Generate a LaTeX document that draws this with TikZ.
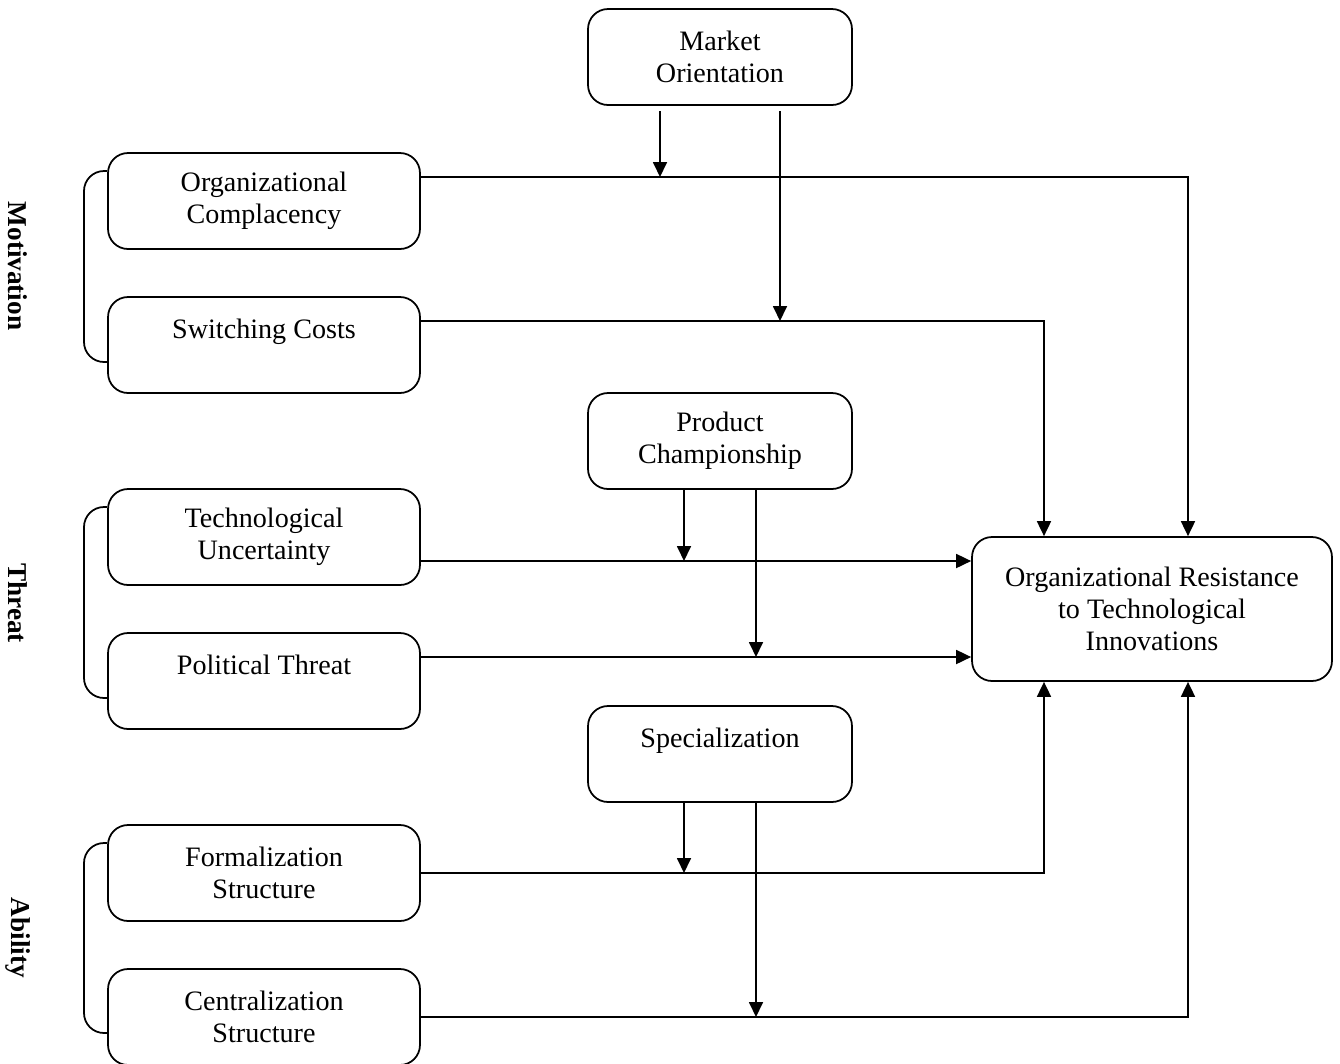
\documentclass[tikz,border=0pt]{standalone}
\usepackage{fontspec}
\setmainfont{Liberation Serif}
\usetikzlibrary{arrows.meta,positioning}

\begin{document}
\begin{tikzpicture}[x=0.02cm,y=-0.02cm,line width=1pt,
    box/.style={draw,rounded corners=0.4cm,align=center,minimum width=6.24cm,minimum height=1.92cm,inner sep=0pt,font=\fontsize{16}{18.3}\selectfont},
    mid/.style={box,minimum width=5.28cm},
    grp/.style={rotate=-90,font=\fontsize{15.5}{18}\selectfont\bfseries},
    arr/.style={-{Triangle[width=0.28cm,length=0.3cm]}}]
                      \useasboundingbox (0,0) rectangle (1340,1063);
                      % left column
                      \node[box] (oc) at (264,201) {Organizational\\Complacency};
                      \node[box] (sc) at (264,345) {Switching Costs\\~};
                      \node[box] (tu) at (264,537) {Technological\\Uncertainty};
                      \node[box] (pt) at (264,681) {Political Threat\\~};
                      \node[box] (fs) at (264,873) {Formalization\\Structure};
                      \node[box] (cs) at (264,1017) {Centralization\\Structure};

                      % moderators
                      \node[mid] (mo) at (720,57) {Market\\Orientation};
                      \node[mid] (pc) at (720,441) {Product\\Championship};
                      \node[mid] (sp) at (720,754) {Specialization\\~};

                      \node[box,minimum width=7.2cm,minimum height=2.88cm] (ori) at (1152,609) {Organizational Resistance\\to Technological\\Innovations};

                      \coordinate (mo1) at (660,177);
                      \coordinate (mo2) at (780,321);
                      \coordinate (pc1) at (684,561);
                      \coordinate (pc2) at (756,657);
                      \coordinate (sp1) at (684,873);
                      \coordinate (sp2) at (756,1017);
                      \coordinate (r1) at (1044,609);
                      \coordinate (r2) at (1188,609);

                      \draw[arr] (oc.east |- mo1) -| (ori.north -| r2);
                      \draw[arr] (sc.east |- mo2) -| (ori.north -| r1);
                      \draw[arr] (tu.east |- pc1) -- (ori.west |- pc1);
                      \draw[arr] (pt.east |- pc2) -- (ori.west |- pc2);
                      \draw[arr] (fs.east) -| (ori.south -| r1);
                      \draw[arr] (cs.east) -| (ori.south -| r2);

                      \draw[arr,shorten <=3pt] (mo.south -| mo1) -- (mo1);
                      \draw[arr,shorten <=3pt] (mo.south -| mo2) -- (mo2);
                      \draw[arr] (pc.south -| pc1) -- (pc1);
                      \draw[arr] (pc.south -| pc2) -- (pc2);
                      \draw[arr] (sp.south -| sp1) -- (sp1);
                      \draw[arr] (sp.south -| sp2) -- (sp2);

                      % brackets
                      \draw[rounded corners=0.4cm] (oc.west |- 0,171) -- (84,171) -- (84,362) -- (sc.west |- 0,362);
                      \draw[rounded corners=0.4cm] (tu.west |- 0,507) -- (84,507) -- (84,698) -- (pt.west |- 0,698);
                      \draw[rounded corners=0.4cm] (fs.west |- 0,843) -- (84,843) -- (84,1033) -- (cs.west |- 0,1033);
                      \node[grp] (mot) at (18,266) {Motivation};
                      \node[grp] (thr) at (18,603) {Threat};
                      \node[grp] (abl) at (18,938) {Ability};
                    \end{tikzpicture}
\end{document}
